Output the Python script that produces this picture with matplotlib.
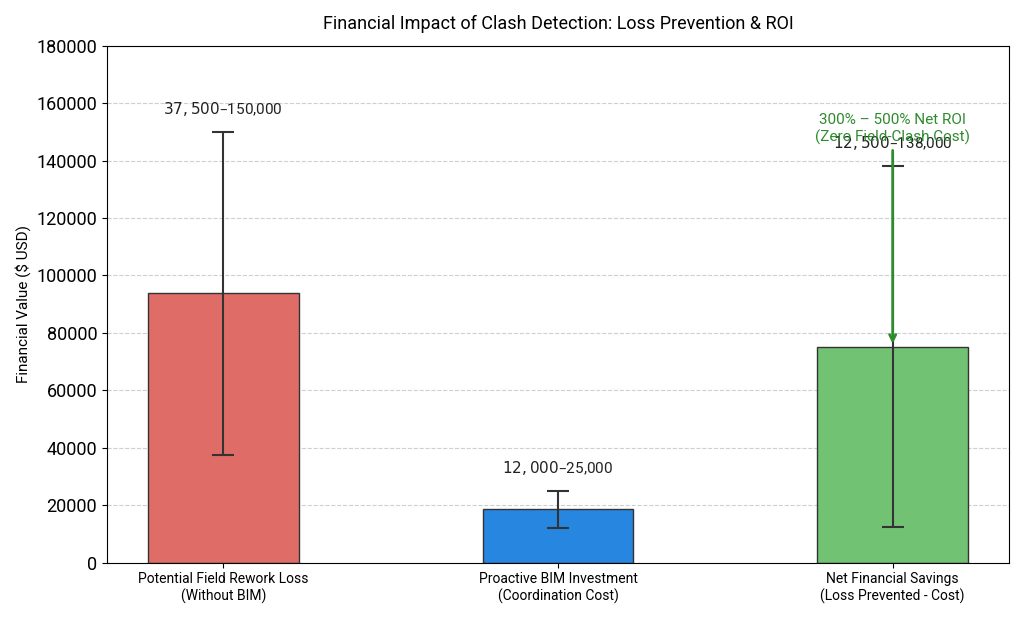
import matplotlib
matplotlib.use('Agg')
import matplotlib.pyplot as plt
import numpy as np

plt.rcParams['font.family'] = ['Roboto', 'DejaVu Sans']

categories = ['Potential Field Rework Loss\n(Without BIM)',
              'Proactive BIM Investment\n(Coordination Cost)',
              'Net Financial Savings\n(Loss Prevented - Cost)']
values = [93750, 18500, 75250]
low = [37500, 12000, 12500]
high = [150000, 25000, 138000]
labels = ['$37,500–$150,000', '$12,000–$25,000', '$12,500–$138,000']
colors = ['#E06C68', '#2686E0', '#72C274']

fig, ax = plt.subplots(figsize=(10.24, 6.19), dpi=100)
x = np.arange(len(categories))
yerr = [np.array(values) - np.array(low), np.array(high) - np.array(values)]
ax.bar(x, values, width=0.45, color=colors, edgecolor='#333333', linewidth=1,
       yerr=yerr, capsize=8, error_kw=dict(ecolor='#333333', elinewidth=1.5, capthick=1.5), zorder=2)
for i in range(len(x)):
    ax.text(x[i], high[i] + 8000, labels[i], ha='center', va='center', fontsize=11, color='#222222')

ax.annotate('300% – 500% Net ROI\n(Zero Field-Clash Cost)', xy=(x[2], values[2]),
            xytext=(x[2], 151000), ha='center', va='center', color='#2E8B2E', fontsize=11,
            arrowprops=dict(arrowstyle='->', color='#2E8B2E', lw=2))

ax.set_ylim(0, 180000)
ax.set_yticks(np.arange(0, 180001, 20000))
ax.tick_params(axis='y', labelsize=13)
ax.set_xticks(x)
ax.set_xticklabels(categories, fontsize=10)
ax.set_ylabel('Financial Value ($ USD)', fontsize=11)
ax.set_title('Financial Impact of Clash Detection: Loss Prevention & ROI', fontsize=13, pad=12)
ax.grid(axis='y', linestyle='--', alpha=0.6, zorder=0)
plt.tight_layout()
plt.savefig('out.png')
